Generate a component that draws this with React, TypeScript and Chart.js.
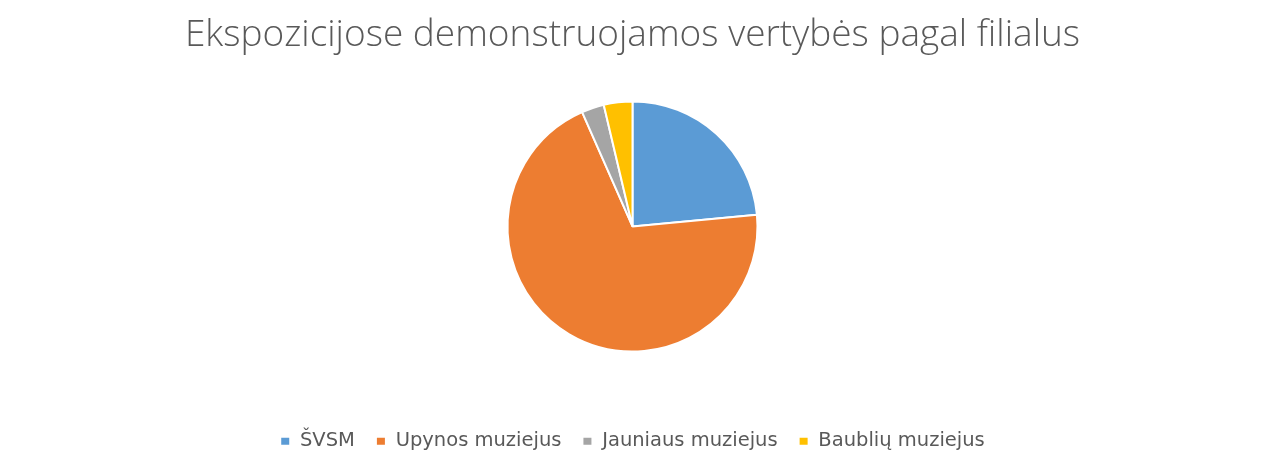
import React, { useEffect, useRef } from "react";
import { Chart, registerables } from "chart.js";

Chart.register(...registerables);

const titleText = "Ekspozicijose demonstruojamos vertybės pagal filialus";
const categories = ["ŠVSM", "Upynos muziejus", "Jauniaus muziejus", "Baublių muziejus"];
const values = [23.5, 69.9, 2.9, 3.7];
const colors = ["#5B9BD5", "#ED7D31", "#A5A5A5", "#FFC000"];

export default function App() {
  const ref = useRef<HTMLCanvasElement | null>(null);
  useEffect(() => {
    if (!ref.current) return;
    const chart = new Chart(ref.current, {
      type: "pie",
      data: {
        labels: categories,
        datasets: [
          {
            data: values,
            backgroundColor: colors,
            borderColor: "#ffffff",
            borderWidth: 2,
            radius: 125,
          },
        ],
      },
      options: {
        animation: false,
        responsive: false,
        layout: { padding: { top: 0, bottom: 15, left: 0, right: 0 } },
        plugins: {
          tooltip: { enabled: false },
          title: {
            display: true,
            text: titleText,
            color: "#595959",
            font: { family: "'Open Sans', sans-serif", size: 37, weight: "300", lineHeight: 1.2 },
            padding: { top: 6.8, bottom: 43.2 },
          },
          legend: {
            position: "bottom",
            title: {
              display: true,
              text: " ",
              font: { size: 1, lineHeight: 1 },
              padding: { top: 57, bottom: 0 },
            },
            labels: {
              color: "#595959",
              font: { family: "'DejaVu Sans', sans-serif", size: 19.5 },
              boxWidth: 10,
              boxHeight: 9,
              padding: 21,
            },
          },
        },
      },
    });
    return () => chart.destroy();
  }, []);
  return (
    <div
      style={{
        marginLeft: -3,
        marginTop: -3,
        width: 1253,
        height: 470,
        border: "1px solid #d0d0d0",
        background: "#fff",
      }}
    >
      <canvas ref={ref} width={1253} height={470} style={{ display: "block" }} />
    </div>
  );
}
